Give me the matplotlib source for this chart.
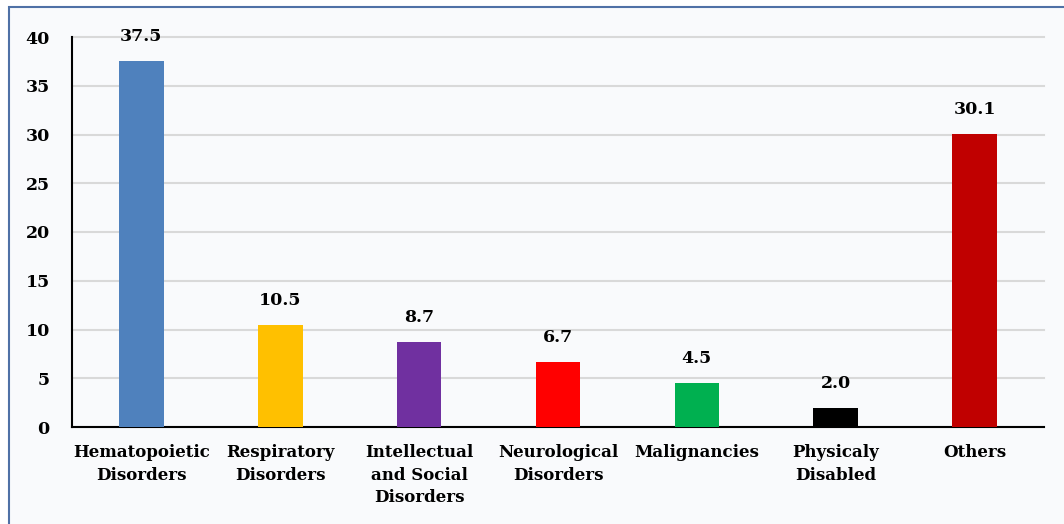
import matplotlib.pyplot as plt
from matplotlib.patches import Rectangle

# data
categories = ['Hematopoietic\nDisorders', 'Respiratory\nDisorders', 'Intellectual\nand Social\nDisorders',
              'Neurological\nDisorders', 'Malignancies', 'Physicaly\nDisabled', 'Others']
values = [37.5, 10.5, 8.7, 6.7, 4.5, 2.0, 30.1]
bar_colors = ['#4F81BD', '#FFC000', '#7030A0', '#FF0000', '#00B050', '#000000', '#C00000']
y_ticks = [0, 5, 10, 15, 20, 25, 30, 35, 40]

plt.rcParams['font.family'] = ['DejaVu Serif']
plt.rcParams['font.weight'] = 'bold'

fig = plt.figure(figsize=(10.64, 5.24), dpi=100)
fig.patch.set_facecolor('white')

# panel background with the blue-ish frame on left/top
frame = Rectangle((9 / 1064, -0.01), 1.1, 1 - 7 / 524 + 0.01, transform=fig.transFigure,
                  facecolor='#F9FAFC', edgecolor='#4F71A6', linewidth=1.5, zorder=-10)
fig.patches.append(frame)

ax = fig.add_axes([72 / 1064, 1 - 427 / 524, (1044 - 72) / 1064, (427 - 37) / 524])
ax.set_facecolor('none')

x = range(len(categories))
bars = ax.bar(x, values, width=0.32, color=bar_colors, zorder=3)

# value labels above the bars
for i, v in enumerate(values):
    ax.annotate(f'{v:.1f}', (i, v), xytext=(0, 11.5), textcoords='offset points',
                ha='center', va='bottom', fontsize=12.5, fontweight='bold')

ax.set_xlim(-0.5, len(categories) - 0.5)
ax.set_ylim(0, 40)
ax.set_yticks(y_ticks)
ax.set_xticks(list(x))
ax.set_xticklabels(categories, fontsize=12, fontweight='bold', linespacing=1.45)
ax.tick_params(axis='y', labelsize=12.5, length=0, pad=16)
ax.tick_params(axis='x', length=0, pad=12)

ax.yaxis.grid(True, color='#D9D9D9', linewidth=1.5, zorder=0)
for gl in ax.get_ygridlines():
    gl.set_clip_on(False)
ax.set_axisbelow(True)
for s in ['top', 'right']:
    ax.spines[s].set_visible(False)
ax.spines['left'].set_linewidth(1.5)
ax.spines['bottom'].set_linewidth(1.5)

fig.savefig('out.png', dpi=100)
